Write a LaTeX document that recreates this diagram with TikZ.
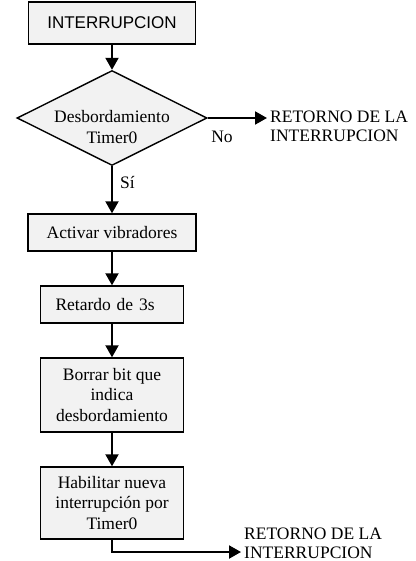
\documentclass[tikz,border=0pt]{standalone}
\usepackage{fontspec}
\setmainfont{Liberation Serif}
\setsansfont{Liberation Sans}
\usetikzlibrary{arrows.meta,positioning,calc,shapes.geometric}
\definecolor{boxfill}{HTML}{F2F2F2}
\tikzset{flowbox/.style={draw=black,fill=boxfill,line width=1.4pt,align=center,inner sep=0pt,
 font=\fontsize{17.5}{20.5}\selectfont},
 flowarrow/.style={-{Triangle[length=12pt,width=13pt]},line width=2pt}}

\begin{document}
\begin{tikzpicture}[x=1pt,y=-1pt,b/.style={flowbox,minimum width=143pt},
 lbl/.style={font=\fontsize{17.5}{19}\selectfont,inner sep=0pt,align=left}]
\useasboundingbox (0,0) rectangle (415,561);
\node[flowbox,minimum width=167pt,minimum height=42pt,font=\sffamily\fontsize{17}{20}\selectfont] (int) at (112,23) {INTERRUPCION};
\node[flowbox,diamond,aspect=2,minimum width=190pt,minimum height=95pt] (des) at (112,118) {};
\node[lbl,align=center,font=\fontsize{17.5}{20.5}\selectfont] (destxt) at (112,127) {Desbordamiento\\Timer0};
\node[flowbox,minimum width=168pt,minimum height=37pt] (act) at (112,232.5) {Activar vibradores};
\node[b,minimum height=37pt,text width=113pt,align=left] (ret) at (112,304.5) {Retardo de 3s};
\node[b,minimum height=74pt] (bor) at (112,395) {Borrar bit que\\indica\\desbordamiento};
\node[b,minimum height=72pt] (hab) at (112,503) {Habilitar nueva\\interrupción por\\Timer0};
\node[lbl,anchor=west] (ret1) at (270,126) {RETORNO DE LA\\INTERRUPCION};
\node[lbl,anchor=west] (ret2) at (244,543) {RETORNO DE LA\\INTERRUPCION};
\node[lbl] (no) at (222,137) {No};
\node[lbl,anchor=west] (si) at (120,183) {Sí};
\coordinate (e1) at (267,118);
\coordinate (e2) at (241,552);
\draw[flowarrow] (int)--(des);\draw[flowarrow] (des)--(act);
\draw[flowarrow] (act)--(ret);\draw[flowarrow] (ret)--(bor);\draw[flowarrow] (bor)--(hab);
\draw[flowarrow] (des.east)--(e1);
\draw[flowarrow] (hab.south) |- (e2);
\end{tikzpicture}
\end{document}
